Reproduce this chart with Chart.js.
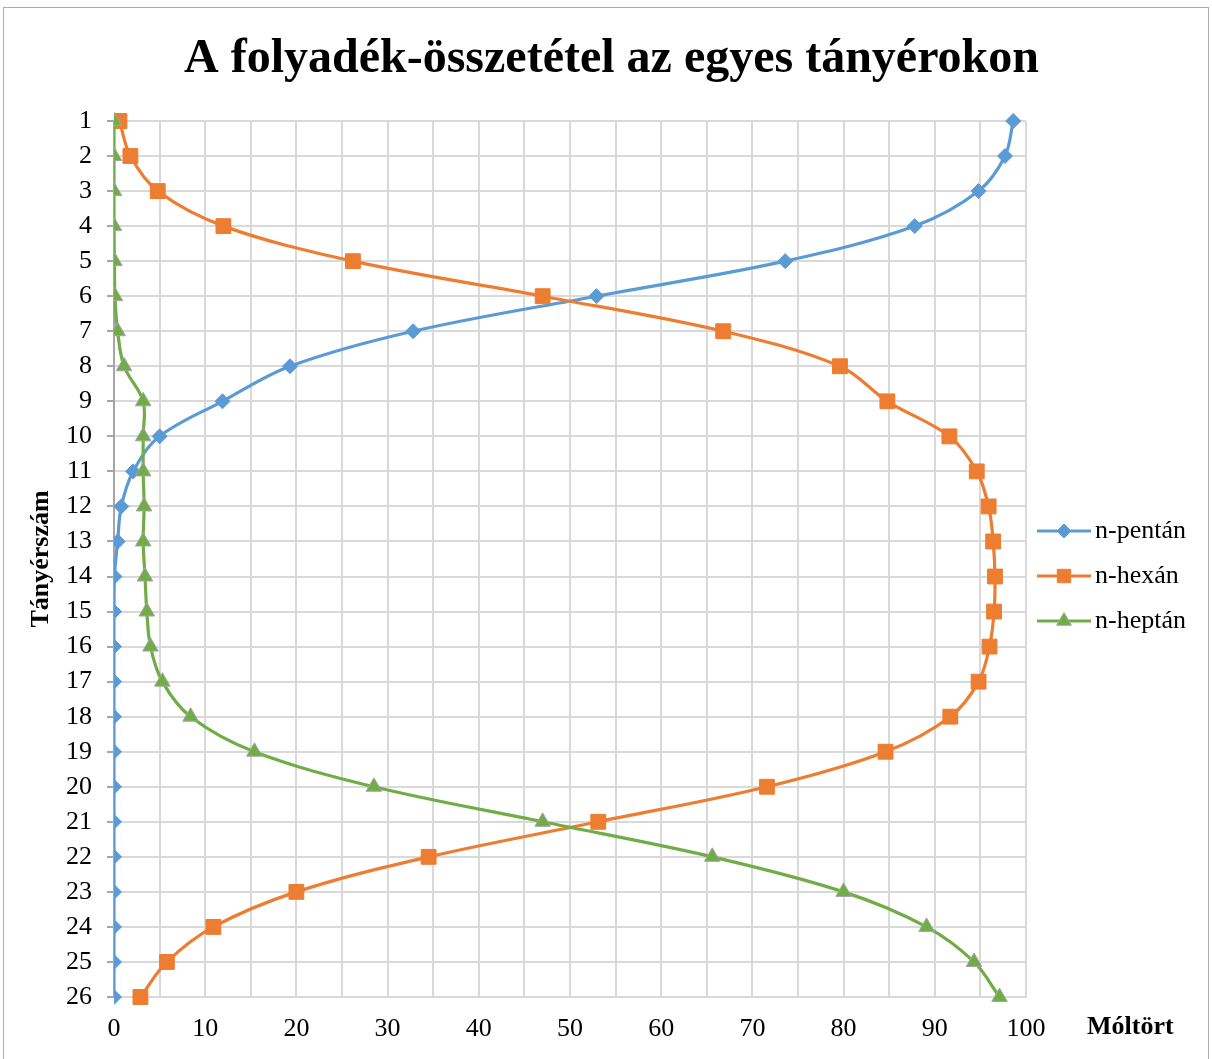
<!DOCTYPE html>
<html>
<head>
<meta charset="utf-8">
<script src="https://cdn.jsdelivr.net/npm/chart.js@4.4.1/dist/chart.umd.min.js"></script>
<style>
html, body { margin: 0; padding: 0; background: #ffffff; }
#wrap { position: relative; width: 1212px; height: 1059px; overflow: hidden; background: #fff; }
#frame { position: absolute; left: 3px; top: 7px; width: 1206px; height: 1100px; border: 1px solid #ABABAB; box-sizing: border-box; pointer-events: none; }
canvas { position: absolute; left: 0; top: 0; }
</style>
</head>
<body>
<div id="wrap"><canvas id="c" width="1212" height="1059"></canvas><div id="frame"></div></div>
<script>
// ---- data ----
const chartTitle = 'A folyadék-összetétel az egyes tányérokon';
const xAxisTitle = 'Móltört';
const yAxisTitle = 'Tányérszám';
const seriesNames = ['n-pentán', 'n-hexán', 'n-heptán'];
const trays = ['1','2','3','4','5','6','7','8','9','10','11','12','13','14','15','16','17','18','19','20','21','22','23','24','25','26'];
const xTickLabels = ['0','10','20','30','40','50','60','70','80','90','100'];
const pentan = [98.6, 97.7, 94.8, 87.8, 73.6, 52.9, 32.8, 19.3, 11.9, 5.0, 2.1, 0.8, 0.4, 0.05, 0, 0, 0, 0, 0, 0, 0, 0, 0, 0, 0, 0];
const hexan  = [0.6, 1.8, 4.8, 12.0, 26.2, 47.0, 66.8, 79.6, 84.8, 91.6, 94.6, 95.9, 96.4, 96.6, 96.5, 96.0, 94.8, 91.7, 84.6, 71.6, 53.1, 34.5, 20.0, 10.9, 5.8, 2.9];
const heptan = [0, 0, 0, 0, 0.05, 0.1, 0.4, 1.1, 3.2, 3.2, 3.2, 3.3, 3.2, 3.4, 3.6, 4.0, 5.3, 8.4, 15.4, 28.5, 47.0, 65.6, 80.0, 89.1, 94.3, 97.1];

const FONT = "'Liberation Serif', 'Times New Roman', serif";
const colors = ['#5B9BD5', '#ED7D31', '#70AD47'];

function drawMarker(ctx, style, r, x, y) {
  if (Chart.helpers && Chart.helpers.drawPoint) {
    Chart.helpers.drawPoint(ctx, { pointStyle: style, radius: r, rotation: 0, borderWidth: ctx.lineWidth }, x, y);
    return;
  }
  ctx.beginPath();
  if (style === 'rectRot') { ctx.moveTo(x, y - r); ctx.lineTo(x + r, y); ctx.lineTo(x, y + r); ctx.lineTo(x - r, y); }
  else if (style === 'rect') { const s = r * Math.SQRT1_2; ctx.rect(x - s, y - s, 2 * s, 2 * s); }
  else { ctx.moveTo(x, y - r); ctx.lineTo(x + r * 0.866, y + r / 2); ctx.lineTo(x - r * 0.866, y + r / 2); }
  ctx.closePath(); ctx.fill(); if (ctx.lineWidth > 0) ctx.stroke();
}

const extras = {
  id: 'extras',
  afterDraw(chart) {
    const ctx = chart.ctx;
    const area = chart.chartArea;
    ctx.save();
    // x axis title, to the right of the tick labels
    ctx.font = 'bold 26px ' + FONT;
    ctx.fillStyle = '#000';
    ctx.textAlign = 'left';
    ctx.textBaseline = 'middle';
    ctx.fillText(xAxisTitle, area.right + 61, area.bottom + 30);
    // legend
    const legendR = [7, 9.5, 8.5];
    chart.data.datasets.forEach((ds, i) => {
      const y = area.top + 410 + i * 45;
      const x0 = area.right + 11, x1 = area.right + 65;
      ctx.strokeStyle = ds.borderColor;
      ctx.lineWidth = 3;
      ctx.beginPath(); ctx.moveTo(x0, y); ctx.lineTo(x1, y); ctx.stroke();
      ctx.fillStyle = ds.pointBackgroundColor;
      ctx.strokeStyle = ds.pointBorderColor;
      ctx.lineWidth = ds.pointBorderWidth;
      drawMarker(ctx, ds.pointStyle, legendR[i], (x0 + x1) / 2, y);
      ctx.font = '26px ' + FONT;
      ctx.fillStyle = '#000';
      ctx.textAlign = 'left';
      ctx.textBaseline = 'middle';
      ctx.fillText(ds.label, x1 + 4, y);
    });
    ctx.restore();
  }
};

const seriesValues = [pentan, hexan, heptan];
const pointStyles = ['rectRot', 'rect', 'triangle'];
const pointRadii = [7.5, 10.5, 9];
const pointBorders = ['#5B9BD5', '#ED7D31', '#A5A5A5'];

const datasets = seriesValues.map((vals, i) => ({
  label: seriesNames[i],
  data: vals,
  xAxisID: 'x',
  yAxisID: 'y',
  borderColor: colors[i],
  backgroundColor: colors[i],
  borderWidth: 3.2,
  tension: 0.35,
  pointStyle: pointStyles[i],
  pointRadius: pointRadii[i],
  pointHoverRadius: pointRadii[i],
  pointBackgroundColor: colors[i],
  pointBorderColor: pointBorders[i],
  pointBorderWidth: 1,
  fill: false,
  order: 3 - i
}));

new Chart(document.getElementById('c'), {
  type: 'line',
  data: { labels: trays, datasets: datasets },
  plugins: [extras],
  options: {
    responsive: false,
    animation: false,
    devicePixelRatio: 1,
    indexAxis: 'y',
    layout: { padding: { left: 11, right: 0, top: 0, bottom: 0 } },
    plugins: {
      legend: { display: false },
      tooltip: { enabled: false },
      title: {
        display: true,
        text: chartTitle,
        color: '#000',
        font: { family: FONT, size: 48, weight: 'bold' },
        padding: { top: 31, bottom: 32.4 }
      }
    },
    scales: {
      x: {
        type: 'linear',
        position: 'bottom',
        min: 0,
        max: 100,
        grid: { color: '#D9D9D9', lineWidth: 2, drawTicks: false },
        border: { color: '#D9D9D9', width: 2 },
        ticks: {
          stepSize: 5,
          autoSkip: false,
          maxRotation: 0,
          color: '#000',
          font: { family: FONT, size: 26 },
          padding: 17,
          callback: (v) => xTickLabels.includes(String(v)) ? String(v) : ''
        },
        afterFit: (s) => { s.height = 62; }
      },
      y: {
        type: 'category',
        position: 'left',
        grid: { color: '#D9D9D9', lineWidth: 2, drawTicks: true, tickLength: 7, tickColor: '#A6A6A6', tickWidth: 2 },
        border: { color: '#A6A6A6', width: 2 },
        ticks: { autoSkip: false, color: '#000', font: { family: FONT, size: 26 }, padding: 15 },
        title: {
          display: true,
          text: yAxisTitle,
          color: '#000',
          font: { family: FONT, size: 26, weight: 'bold' },
          padding: { top: 15, bottom: 0 }
        },
        afterFit: (s) => { s.width = 103; }
      },
      legendSpace: {
        type: 'linear',
        axis: 'y',
        position: 'right',
        display: true,
        grid: { display: false, drawTicks: false },
        border: { display: false },
        ticks: { display: false },
        afterFit: (s) => { s.width = 186; }
      }
    }
  }
});
</script>
</body>
</html>
